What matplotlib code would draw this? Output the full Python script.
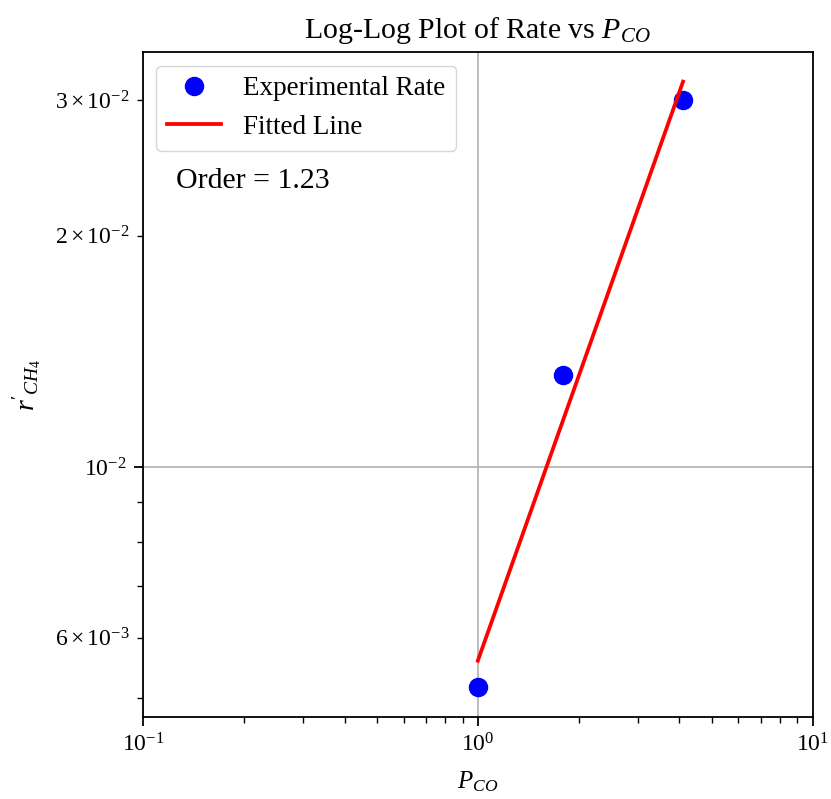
import numpy as np
import matplotlib
matplotlib.use("Agg")
import matplotlib.pyplot as plt

plt.rcParams['font.family'] = ['Liberation Serif', 'DejaVu Serif']
plt.rcParams['mathtext.fontset'] = 'custom'
plt.rcParams['mathtext.rm'] = 'Liberation Serif'
plt.rcParams['mathtext.it'] = 'Liberation Serif:italic'
plt.rcParams['mathtext.bf'] = 'Liberation Serif:bold'

p_co = [1.0, 1.80, 4.10]
rate = [5.18e-3, 1.317e-2, 3.0e-2]

slope, intercept = np.polyfit(np.log10(p_co), np.log10(rate), 1)
x_fit = np.array([min(p_co), max(p_co)])
y_fit = 10 ** (intercept + slope * np.log10(x_fit))

fig = plt.figure(figsize=(8.31, 7.99), dpi=100)
ax = fig.add_axes([0.172, 0.1026, 0.806, 0.8323])
ax.plot(p_co, rate, 'o', color='blue', markersize=13, label='Experimental Rate')
ax.plot(x_fit, y_fit, '-', color='red', linewidth=2.7, label='Fitted Line')
ax.set_xscale('log')
ax.set_yscale('log')
ax.set_xlim(0.1, 10)
ax.set_ylim(4.73e-3, 3.465e-2)
ax.grid(True, which='major', color='#b0b0b0', linewidth=1.2)
for s in ax.spines.values():
    s.set_linewidth(1.3)
ax.tick_params(which='both', labelsize=17, pad=5.5)
ax.tick_params(which='major', length=6.5, width=1.3)
ax.tick_params(which='minor', length=4.3, width=1.0)
ax.set_title('Log-Log Plot of Rate vs $P_{CO}$', fontsize=21.5, pad=10)
ax.set_xlabel('$P_{CO}$', fontsize=18, labelpad=9)
ax.set_ylabel("$r'_{CH_4}$", fontsize=20, labelpad=8)
ax.text(0.05, 0.795, f'Order = {slope:.2f}', transform=ax.transAxes, fontsize=21.5)
ax.legend(loc='upper left', fontsize=19.5)
fig.savefig('out.png', dpi=100)
